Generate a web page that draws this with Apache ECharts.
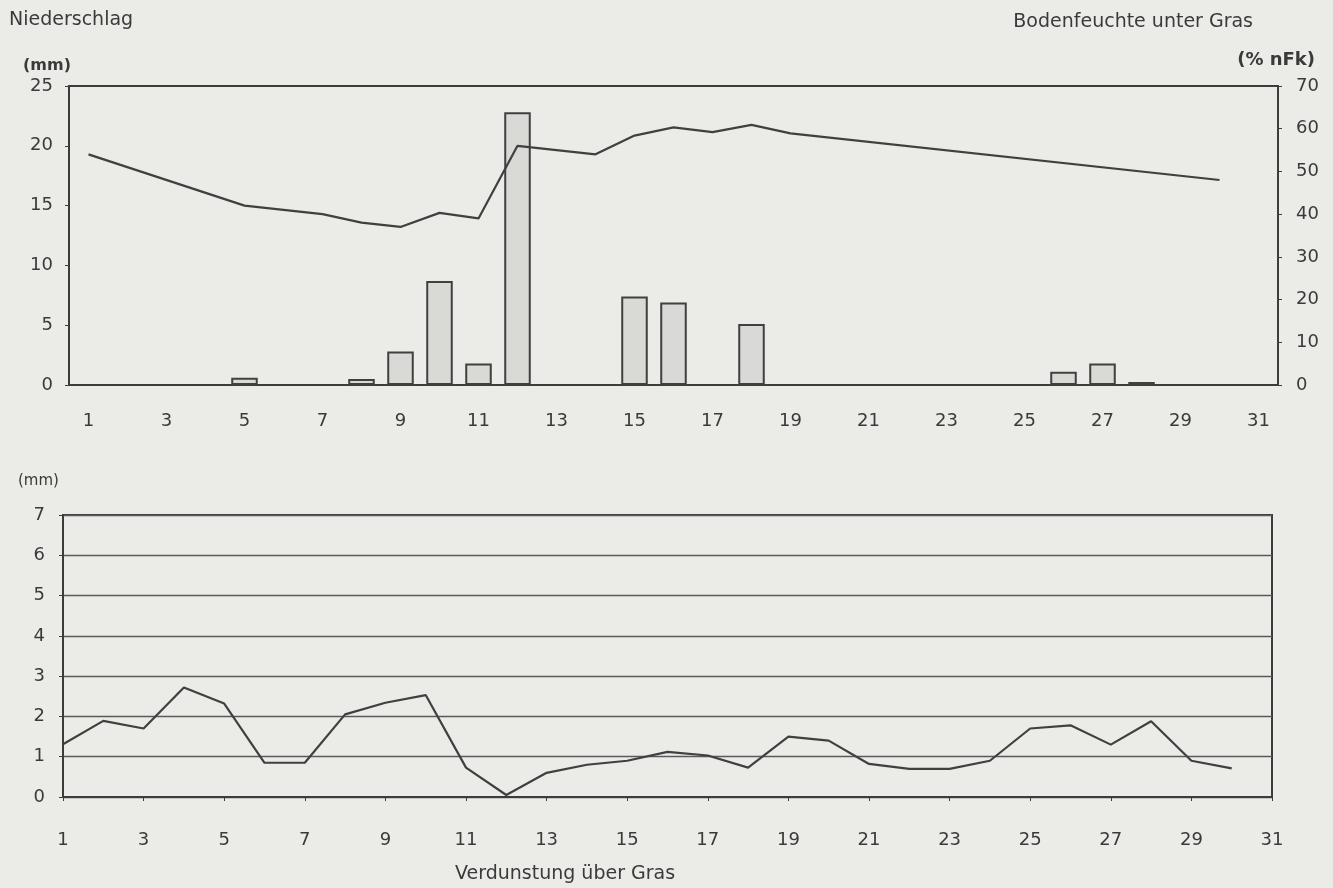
<!DOCTYPE html>
<html>
<head>
<meta charset="utf-8">
<script src="https://cdn.jsdelivr.net/npm/echarts@6/dist/echarts.min.js"></script>
<style>
html,body{margin:0;padding:0;background:#ebebe8;}
#c{width:1333px;height:888px;}
</style>
</head>
<body>
<div id="c"></div>
<script>
// Days of the month
const days = Array.from({length: 31}, (_, i) => String(i + 1));
// Niederschlag (mm), daily precipitation
const niederschlag = [null, null, null, null, 0.6, null, null, 0.5, 2.8, 8.7, 1.8, 22.8, null, null, 7.4, 6.9, null, 5.1, null, null, null, null, null, null, null, 1.1, 1.8, 0.25, null, null, null];
// Bodenfeuchte unter Gras (% nFk); null = no vertex drawn (line continues straight)
const bodenfeuchte = [54, null, null, null, 42, null, 40, 38, 37, 40.3, 39, 56, null, 54, 58.4, 60.3, 59.2, 60.9, 58.9, null, null, null, null, null, null, null, null, null, null, 48, null];
// Verdunstung über Gras (mm)
const verdunstung = [1.31, 1.89, 1.7, 2.72, 2.32, 0.85, 0.85, 2.05, 2.34, 2.53, 0.73, 0.05, 0.6, 0.8, 0.9, 1.12, 1.03, 0.73, 1.5, 1.4, 0.82, 0.7, 0.7, 0.9, 1.7, 1.78, 1.3, 1.88, 0.9, 0.71, null];

const FONT = 'DejaVu Sans';
const TXT = '#3a3a3a';
const LINE = '#3c3c3c';

const chart = echarts.init(document.getElementById('c'));
chart.setOption({
  backgroundColor: '#ebebe8',
  animation: false,
  grid: [
    {left: 69, top: 86, right: 55, bottom: 503, show: true, borderColor: LINE, borderWidth: 2, backgroundColor: 'transparent'},
    {left: 63, top: 515, right: 61, bottom: 91, show: true, borderColor: LINE, borderWidth: 2, backgroundColor: 'transparent'}
  ],
  xAxis: [
    {type: 'category', gridIndex: 0, data: days, boundaryGap: true,
     axisLine: {lineStyle: {color: LINE, width: 2}},
     axisTick: {interval: 1, length: 4, lineStyle: {color: LINE}},
     axisLabel: {interval: 1, margin: 27, color: TXT, fontFamily: FONT, fontSize: 18}},
    {type: 'category', gridIndex: 1, data: days, boundaryGap: false,
     axisLine: {lineStyle: {color: LINE, width: 2}},
     axisTick: {interval: 1, length: 4, lineStyle: {color: LINE}},
     axisLabel: {interval: 1, margin: 34, color: TXT, fontFamily: FONT, fontSize: 18}}
  ],
  yAxis: [
    {type: 'value', gridIndex: 0, min: 0, max: 25, interval: 5,
     axisLine: {show: true, lineStyle: {color: LINE, width: 2}},
     axisTick: {show: true, length: 4, lineStyle: {color: LINE}},
     splitLine: {show: false},
     axisLabel: {margin: 16, color: TXT, fontFamily: FONT, fontSize: 18}},
    {type: 'value', gridIndex: 0, position: 'right', min: 0, max: 70, interval: 10,
     axisLine: {show: true, lineStyle: {color: LINE, width: 2}},
     axisTick: {show: true, length: 4, lineStyle: {color: LINE}},
     splitLine: {show: false},
     axisLabel: {margin: 18, color: TXT, fontFamily: FONT, fontSize: 18}},
    {type: 'value', gridIndex: 1, min: 0, max: 7, interval: 1,
     axisLine: {show: true, lineStyle: {color: LINE, width: 2}},
     axisTick: {show: true, length: 4, lineStyle: {color: LINE}},
     splitLine: {show: true, lineStyle: {color: '#5a5a5a', width: 1.3}},
     axisLabel: {margin: 18, color: TXT, fontFamily: FONT, fontSize: 18}}
  ],
  series: [
    {name: 'Niederschlag', type: 'bar', xAxisIndex: 0, yAxisIndex: 0, data: niederschlag,
     barWidth: '68%',
     itemStyle: {color: '#d9d9d6', borderColor: '#404040', borderWidth: 2}},
    {name: 'Bodenfeuchte', type: 'line', xAxisIndex: 0, yAxisIndex: 1, data: bodenfeuchte,
     connectNulls: true, showSymbol: false, symbol: 'none',
     lineStyle: {color: '#404040', width: 2.2}},
    {name: 'Verdunstung', type: 'line', xAxisIndex: 1, yAxisIndex: 2, data: verdunstung,
     connectNulls: false, showSymbol: false, symbol: 'none',
     lineStyle: {color: '#404040', width: 2.2}}
  ],
  graphic: [
    {type: 'text', left: 9, top: 11, style: {text: 'Niederschlag', fill: TXT, font: '19px "DejaVu Sans"'}},
    {type: 'text', left: 23, top: 58, style: {text: '(mm)', fill: TXT, font: 'bold 16px "DejaVu Sans"'}},
    {type: 'text', right: 80, top: 13, style: {text: 'Bodenfeuchte unter Gras', fill: TXT, font: '19px "DejaVu Sans"'}},
    {type: 'text', right: 18, top: 51, style: {text: '(% nFk)', fill: TXT, font: 'bold 18px "DejaVu Sans"'}},
    {type: 'text', left: 18, top: 474, style: {text: '(mm)', fill: TXT, font: '15px "DejaVu Sans"'}},
    {type: 'text', left: 455, top: 865, style: {text: 'Verdunstung über Gras', fill: TXT, font: '19px "DejaVu Sans"'}}
  ]
});
</script>
</body>
</html>
